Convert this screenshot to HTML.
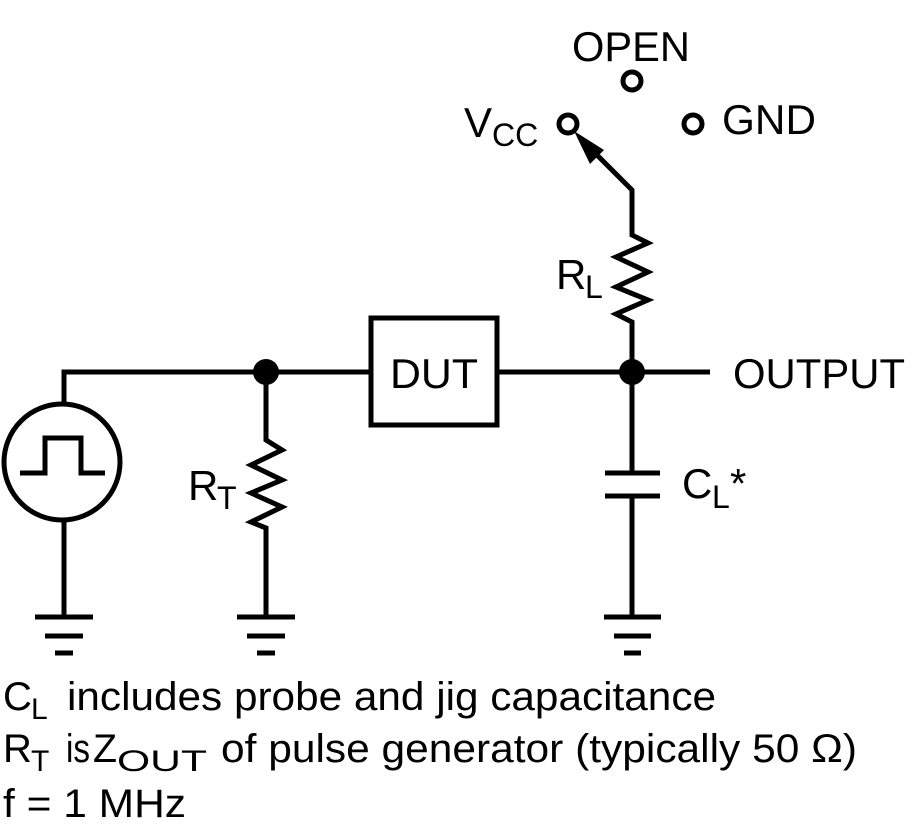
<!DOCTYPE html>
<html><head><meta charset="utf-8"><style>
html,body{margin:0;padding:0;background:#fff;}
svg{display:block;}
text{font-family:"Liberation Sans",sans-serif;fill:#000;}
</style></head><body>
<svg width="913" height="838" viewBox="0 0 913 838" xmlns="http://www.w3.org/2000/svg">
<g fill="none" stroke="#000" stroke-width="5" stroke-linejoin="miter">
<polyline points="64,404 64,372 371,372"/>
<line x1="497" y1="372" x2="710" y2="372"/>
<circle cx="62" cy="462" r="58"/>
<polyline points="20,473 45,473 45,438 81,438 81,473 105,473"/>
<line x1="64" y1="520" x2="64" y2="617"/>
<line x1="35" y1="617" x2="93" y2="617"/>
<line x1="45" y1="636" x2="83" y2="636"/>
<line x1="55" y1="653" x2="73" y2="653"/>
<polyline points="266,372 266,440 282,450 251,465 282,480 251,493 282,507 251,522 266,528 266,617"/>
<line x1="237" y1="617" x2="295" y2="617"/>
<line x1="247" y1="636" x2="285" y2="636"/>
<line x1="257" y1="653" x2="275" y2="653"/>
<rect x="371" y="318" width="126" height="107"/>
<polyline points="632,372 632,322 616,314 648,300 616,287 648,272 616,257 648,243 632,235 632,190 582,140"/>
<line x1="632" y1="372" x2="632" y2="473"/>
<line x1="605" y1="473" x2="660" y2="473"/>
<line x1="605" y1="496" x2="660" y2="496"/>
<line x1="632" y1="496" x2="632" y2="617"/>
<line x1="604" y1="617" x2="661" y2="617"/>
<line x1="614" y1="636" x2="651" y2="636"/>
<line x1="624" y1="653" x2="641" y2="653"/>
<circle cx="568" cy="124" r="9"/>
<circle cx="632" cy="81" r="9"/>
<circle cx="693" cy="124" r="9"/>
</g>
<polygon points="574,131 604,150 590,164" fill="#000"/>
<circle cx="266" cy="372" r="13" fill="#000"/>
<circle cx="632" cy="372" r="13" fill="#000"/>
<g font-size="42">
<text x="572" y="61" textLength="118" lengthAdjust="spacingAndGlyphs">OPEN</text>
<text x="722" y="134" textLength="94" lengthAdjust="spacingAndGlyphs">GND</text>
<text x="464" y="137">V</text><text x="492" y="146" font-size="32">CC</text>
<text x="556" y="289">R</text><text x="585" y="298" font-size="32">L</text>
<text x="390" y="388" textLength="88" lengthAdjust="spacingAndGlyphs">DUT</text>
<text x="733" y="388" textLength="172" lengthAdjust="spacingAndGlyphs">OUTPUT</text>
<text x="682" y="498">C</text><text x="712" y="508" font-size="32">L</text><text x="730" y="498">*</text>
<text x="188" y="500">R</text><text x="217" y="509" font-size="32">T</text>
</g>
<g font-size="40">
<text x="3" y="710">C</text><text x="31" y="719" font-size="30">L</text>
<text x="67" y="710" textLength="649" lengthAdjust="spacingAndGlyphs">includes probe and jig capacitance</text>
<text x="3" y="762">R</text><text x="31" y="771" font-size="30">T</text>
<text x="66" y="762" textLength="24" lengthAdjust="spacingAndGlyphs">is</text>
<text x="93" y="762" textLength="24" lengthAdjust="spacingAndGlyphs">Z</text>
<text x="117" y="771" font-size="30" textLength="90" lengthAdjust="spacingAndGlyphs">OUT</text>
<text x="221" y="762" textLength="636" lengthAdjust="spacingAndGlyphs">of pulse generator (typically 50 Ω)</text>
<text x="3" y="817" textLength="183" lengthAdjust="spacingAndGlyphs">f = 1 MHz</text>
</g>
</svg>
</body></html>
